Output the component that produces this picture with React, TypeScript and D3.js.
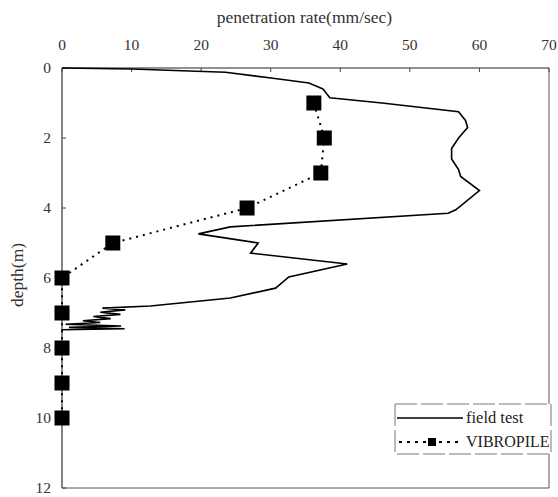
import React from "react";
import * as d3 from "d3";

const fieldDepth = [0, 0.03, 0.12, 0.3, 0.43, 0.6, 0.85, 1.0, 1.25, 1.5, 1.7, 2.0, 2.3, 2.6, 2.9, 3.1, 3.5, 4.05, 4.15, 4.54, 4.74, 5.0, 5.29, 5.6, 5.97, 6.29, 6.57, 6.8, 6.86, 6.91, 6.98, 7.04, 7.1, 7.16, 7.22, 7.27, 7.32, 7.37, 7.41, 7.45, 7.48, 7.5];
const fieldRate = [0, 10, 23.5, 30.6, 35.5, 37.5, 38.5, 46, 57, 58, 58.3, 57, 56, 56, 57, 57.3, 60, 56.6, 55.5, 24.2, 19.6, 28.2, 27.1, 41.0, 32.6, 30.7, 24.2, 12.7, 5.8, 9.1, 5.5, 8.4, 4.5, 7.0, 3.0, 5.5, 0.5, 8.5, 1.0, 9.0, 0, 0];

const vibroDepth = [1, 2, 3, 4, 5, 6, 7, 8, 9, 10];
const vibroRate = [36.2, 37.7, 37.2, 26.6, 7.3, 0, 0, 0, 0, 0];

const xTicks = [0, 10, 20, 30, 40, 50, 60, 70];
const yTicks = [0, 2, 4, 6, 8, 10, 12];

const W = 558, H = 497;
const L = 62, R = 549, T = 68, B = 488;
const FONT = "'Liberation Serif', 'DejaVu Serif', serif";

export default function App() {
  const x = d3.scaleLinear().domain([0, 70]).range([L, R]);
  const y = d3.scaleLinear().domain([0, 12]).range([T, B]);

  const fieldPts: [number, number][] = fieldDepth.map((d, i) => [fieldRate[i], d]);
  const vibroPts: [number, number][] = vibroDepth.map((d, i) => [vibroRate[i], d]);
  const line = d3.line<[number, number]>().x(p => x(p[0])).y(p => y(p[1]));

  const sq = 15;
  const lgX = 395, lgY = 404, lgW = 156, lgH = 50;

  return (
    <svg width={W} height={H} style={{ position: "absolute", left: 0, top: 0, background: "#fff" }}>
      <rect x={0} y={0} width={W} height={H} fill="#fff" />
      {/* frame */}
      <line x1={L} y1={T} x2={R} y2={T} stroke="#222" strokeWidth={1.2} />
      <line x1={L} y1={T} x2={L} y2={B} stroke="#333" strokeWidth={1.2} />
      <line x1={R} y1={T} x2={R} y2={B} stroke="#555" strokeWidth={1} />
      <line x1={L} y1={B} x2={R} y2={B} stroke="#555" strokeWidth={1} />
      {/* ticks */}
      {xTicks.map(t => (
        <g key={"xt" + t}>
          <line x1={x(t)} y1={T} x2={x(t)} y2={T + 4} stroke="#444" strokeWidth={1} />
          <text x={x(t)} y={T - 18} textAnchor="middle" fontFamily={FONT} fontSize={15.5} fill="#333">{t}</text>
        </g>
      ))}
      {yTicks.map(t => (
        <g key={"yt" + t}>
          <line x1={L} y1={y(t)} x2={L + 4} y2={y(t)} stroke="#444" strokeWidth={1} />
          <text x={L - 11} y={y(t) + 5} textAnchor="end" fontFamily={FONT} fontSize={15.5} fill="#333">{t}</text>
        </g>
      ))}
      <text x={(L + R) / 2 - 1} y={23} textAnchor="middle" fontFamily={FONT} fontSize={17.5} fill="#333">penetration rate(mm/sec)</text>
      <text transform={`translate(23,${(T + B) / 2 - 3}) rotate(-90)`} textAnchor="middle" fontFamily={FONT} fontSize={17.5} fill="#333">depth(m)</text>

      {/* field test */}
      <path d={line(fieldPts) || ""} fill="none" stroke="#000" strokeWidth={1.6} strokeLinejoin="miter" />
      {/* vibropile */}
      <path d={line(vibroPts) || ""} fill="none" stroke="#000" strokeWidth={2} strokeDasharray="2 5" />
      {vibroPts.map((p, i) => (
        <rect key={"v" + i} x={x(p[0]) - sq / 2} y={y(p[1]) - sq / 2} width={sq} height={sq} fill="#000" />
      ))}

      {/* legend */}
      <rect x={lgX} y={lgY} width={lgW} height={lgH} fill="#fff" stroke="#777" strokeWidth={1} strokeDasharray="22 4" />
      <line x1={lgX + 2} y1={lgY + 14} x2={lgX + 68} y2={lgY + 14} stroke="#000" strokeWidth={1.6} />
      <text x={lgX + 71} y={lgY + 19} fontFamily={FONT} fontSize={16.5} fill="#222">field test</text>
      <line x1={lgX + 4} y1={lgY + 38} x2={lgX + 68} y2={lgY + 38} stroke="#000" strokeWidth={2} strokeDasharray="3 5" />
      <rect x={lgX + 33} y={lgY + 34} width={8} height={8} fill="#000" />
      <text x={lgX + 71} y={lgY + 43} fontFamily={FONT} fontSize={16} fill="#222">VIBROPILE</text>
    </svg>
  );
}
